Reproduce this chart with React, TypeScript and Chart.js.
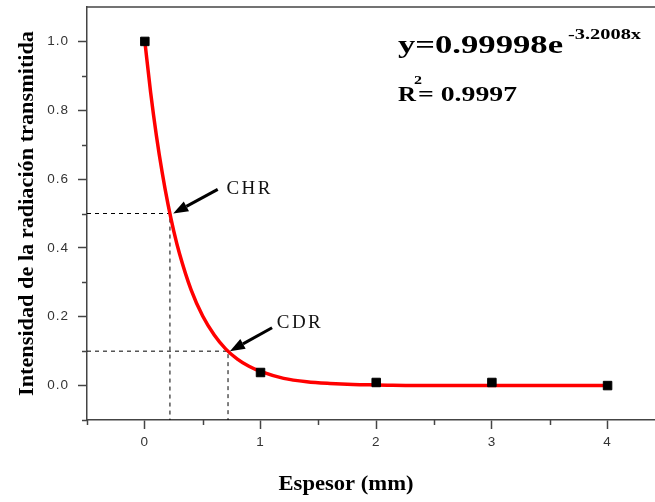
import React, { useEffect, useRef } from "react";
import { Chart, registerables } from "chart.js";

Chart.register(...registerables);

// Measured points: thickness (mm) vs transmitted intensity
const thickness = [0, 1, 2, 3, 4];
const intensity = [1.0, 0.038, 0.009, 0.009, 0.0];

// Exponential fit curve
const fitX = [0, 0.05, 0.1, 0.15, 0.2, 0.25, 0.3, 0.4, 0.5, 0.6, 0.7, 0.8, 0.9, 1.0, 1.2, 1.4, 1.6, 1.8, 2.0, 2.5, 3.0, 3.5, 4.0];
const fitY = [1.0, 0.852, 0.726, 0.619, 0.527, 0.449, 0.383, 0.278, 0.202, 0.147, 0.106, 0.077, 0.056, 0.041, 0.021, 0.011, 0.006, 0.003, 0.002, 0.0, 0.0, 0.0, 0.0];

// Reference (dashed) lines: CHR and CDR
const chrX = [-0.5, 0.217, 0.217];
const chrY = [0.5, 0.5, -0.1];
const cdrX = [-0.5, 0.719, 0.719];
const cdrY = [0.1, 0.1, -0.1];

// Axis ranges and ticks
const xMin = -0.5;
const xMax = 4.41;
const yMin = -0.1;
const yMax = 1.1;
const xMajorTicks = [0, 1, 2, 3, 4];
const xMinorTicks = [-0.5, 0.5, 1.5, 2.5, 3.5];
const yMajorTicks = [0, 0.2, 0.4, 0.6, 0.8, 1.0];
const yMinorTicks = [-0.1, 0.1, 0.3, 0.5, 0.7, 0.9];

// Annotation labels (arrow tail -> head in data coords, text anchor in data coords)
const chrLabel = "CHR";
const chrArrow = [0.63, 0.57, 0.245, 0.5];
const chrText = [0.705, 0.571];
const cdrLabel = "CDR";
const cdrArrow = [1.10, 0.168, 0.735, 0.1];
const cdrText = [1.14, 0.181];

const xTitle = "Espesor (mm)";
const yTitle = "Intensidad de la radiación transmitida";
const eqMain = "y=0.99998e";
const eqExp = "-3.2008x";
const r2Label = "R";
const r2Sup = "2";
const r2Value = "= 0.9997";

const AXIS = "#444";

function pts(xs: number[], ys: number[]) {
  return xs.map((x, i) => ({ x, y: ys[i] }));
}

function drawArrow(ctx: CanvasRenderingContext2D, x1: number, y1: number, x2: number, y2: number) {
  const ang = Math.atan2(y2 - y1, x2 - x1);
  const headLen = 15;
  const headHalf = 5.5;
  const bx = x2 - headLen * Math.cos(ang);
  const by = y2 - headLen * Math.sin(ang);
  ctx.beginPath();
  ctx.moveTo(x1, y1);
  ctx.lineTo(bx, by);
  ctx.lineWidth = 3;
  ctx.strokeStyle = "#000";
  ctx.stroke();
  ctx.beginPath();
  ctx.moveTo(x2, y2);
  ctx.lineTo(bx + headHalf * Math.sin(ang), by - headHalf * Math.cos(ang));
  ctx.lineTo(bx - headHalf * Math.sin(ang), by + headHalf * Math.cos(ang));
  ctx.closePath();
  ctx.fillStyle = "#000";
  ctx.fill();
}

// draw text horizontally scaled so that it spans the given width
function fitted(ctx: CanvasRenderingContext2D, text: string, x: number, y: number, font: string, width: number, align: CanvasTextAlign = "left") {
  ctx.save();
  ctx.font = font;
  ctx.textAlign = align;
  ctx.textBaseline = "alphabetic";
  const w = ctx.measureText(text).width;
  ctx.translate(x, y);
  ctx.scale(width / w, 1);
  ctx.fillText(text, 0, 0);
  ctx.restore();
}

const decorPlugin = {
  id: "decor",
  beforeDraw(chart: any) {
    (chart.ctx as any).letterSpacing = "1px";
  },
  afterDraw(chart: any) {
    const { ctx, chartArea: a, scales } = chart;
    const xs = scales.x;
    const ys = scales.y;
    ctx.save();
    (ctx as any).letterSpacing = "0px";
    // top frame line
    ctx.strokeStyle = AXIS;
    ctx.lineWidth = 1.5;
    ctx.beginPath();
    ctx.moveTo(a.left, a.top);
    ctx.lineTo(a.right, a.top);
    ctx.stroke();
    // minor ticks
    xMinorTicks.forEach((v) => {
      const px = Math.round(xs.getPixelForValue(v)) + 0.5;
      ctx.beginPath();
      ctx.moveTo(px, a.bottom);
      ctx.lineTo(px, a.bottom + 5);
      ctx.stroke();
    });
    yMinorTicks.forEach((v) => {
      const py = Math.round(ys.getPixelForValue(v)) + 0.5;
      ctx.beginPath();
      ctx.moveTo(a.left - 5, py);
      ctx.lineTo(a.left, py);
      ctx.stroke();
    });
    // arrows
    drawArrow(ctx, xs.getPixelForValue(chrArrow[0]), ys.getPixelForValue(chrArrow[1]), xs.getPixelForValue(chrArrow[2]), ys.getPixelForValue(chrArrow[3]));
    drawArrow(ctx, xs.getPixelForValue(cdrArrow[0]), ys.getPixelForValue(cdrArrow[1]), xs.getPixelForValue(cdrArrow[2]), ys.getPixelForValue(cdrArrow[3]));
    // labels
    ctx.fillStyle = "#111";
    ctx.font = "19px 'Liberation Serif'";
    (ctx as any).letterSpacing = "2.5px";
    ctx.textBaseline = "middle";
    ctx.textAlign = "left";
    ctx.fillText(chrLabel, xs.getPixelForValue(chrText[0]), ys.getPixelForValue(chrText[1]));
    ctx.fillText(cdrLabel, xs.getPixelForValue(cdrText[0]), ys.getPixelForValue(cdrText[1]));
    (ctx as any).letterSpacing = "0px";
    // equation
    ctx.fillStyle = "#000";
    fitted(ctx, eqMain, 398, 53, "bold 26px 'Liberation Serif'", 165);
    fitted(ctx, eqExp, 568, 39, "bold 14px 'Liberation Serif'", 73);
    fitted(ctx, r2Label, 398, 101, "bold 22px 'Liberation Serif'", 18);
    fitted(ctx, r2Sup, 414, 84, "bold 13px 'Liberation Serif'", 8);
    fitted(ctx, r2Value, 418, 101, "bold 22px 'Liberation Serif'", 99);
    // axis titles
    fitted(ctx, xTitle, 346, 490, "bold 20px 'Liberation Serif'", 135, "center");
    ctx.save();
    ctx.translate(33, (a.top + a.bottom) / 2);
    ctx.rotate(-Math.PI / 2);
    fitted(ctx, yTitle, 0, 0, "bold 20px 'Liberation Serif'", 365, "center");
    ctx.restore();
    ctx.restore();
  },
};

export default function App() {
  const ref = useRef<HTMLCanvasElement>(null);
  useEffect(() => {
    if (!ref.current) return;
    const chart = new Chart(ref.current, {
      type: "scatter",
      data: {
        datasets: [
          {
            data: pts(thickness, intensity),
            pointStyle: "rect",
            pointRadius: 6,
            pointBackgroundColor: "#000",
            pointBorderColor: "#000",
            pointBorderWidth: 1,
            showLine: false,
          },
          {
            data: pts(fitX, fitY),
            showLine: true,
            borderColor: "#ff0000",
            borderWidth: 3.5,
            pointRadius: 0,
            cubicInterpolationMode: "monotone",
          },
          {
            data: pts(chrX, chrY),
            showLine: true,
            borderColor: "#000",
            borderWidth: 1,
            borderDash: [4, 4],
            pointRadius: 0,
          },
          {
            data: pts(cdrX, cdrY),
            showLine: true,
            borderColor: "#000",
            borderWidth: 1,
            borderDash: [4, 4],
            pointRadius: 0,
          },
        ],
      } as any,
      options: {
        animation: false,
        responsive: false,
        devicePixelRatio: 1,
        layout: { autoPadding: false, padding: { top: 7, left: 0, right: 0, bottom: 0 } },
        plugins: { legend: { display: false }, tooltip: { enabled: false } },
        scales: {
          x: {
            type: "linear",
            min: xMin,
            max: xMax,
            afterBuildTicks: (axis: any) => {
              axis.ticks = xMajorTicks.map((v) => ({ value: v }));
            },
            afterFit: (axis: any) => {
              axis.height = 82;
              axis.paddingLeft = 0;
              axis.paddingRight = 0;
            },
            grid: { drawOnChartArea: false, tickLength: 9, tickColor: AXIS, tickWidth: 1.5 },
            border: { display: true, color: AXIS, width: 1.5 },
            ticks: {
              padding: 5,
              color: "#333",
              font: { family: "'Liberation Sans'", size: 13.5 },
              maxRotation: 0,
              callback: (v: any) => String(v),
            },
          },
          y: {
            type: "linear",
            min: yMin,
            max: yMax,
            afterBuildTicks: (axis: any) => {
              axis.ticks = yMajorTicks.map((v) => ({ value: v }));
            },
            afterFit: (axis: any) => {
              axis.width = 87;
              axis.paddingTop = 0;
              axis.paddingBottom = 0;
            },
            grid: { drawOnChartArea: false, tickLength: 9, tickColor: AXIS, tickWidth: 1.5 },
            border: { display: true, color: AXIS, width: 1.5 },
            ticks: {
              padding: 9,
              color: "#333",
              font: { family: "'Liberation Sans'", size: 13.5 },
              callback: (v: any) => Number(v).toFixed(1),
            },
          },
        },
      } as any,
      plugins: [decorPlugin],
    });
    return () => chart.destroy();
  }, []);
  return (
    <div style={{ position: "absolute", left: 0, top: 0, width: 655, height: 502, background: "#fff" }}>
      <canvas ref={ref} width={655} height={502} />
    </div>
  );
}
